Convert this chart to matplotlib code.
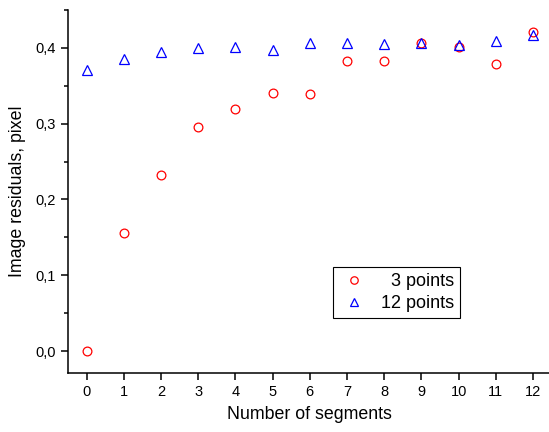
import matplotlib
matplotlib.use("Agg")
import matplotlib.pyplot as plt
from matplotlib.ticker import MultipleLocator, FuncFormatter

segments = [0, 1, 2, 3, 4, 5, 6, 7, 8, 9, 10, 11, 12]
res_3pts = [0.000, 0.156, 0.232, 0.296, 0.320, 0.341, 0.339, 0.383, 0.383, 0.407, 0.401, 0.379, 0.421]
res_12pts = [0.371, 0.385, 0.395, 0.400, 0.401, 0.397, 0.406, 0.407, 0.405, 0.407, 0.404, 0.409, 0.417]

plt.rcParams['font.family'] = ['Liberation Sans', 'DejaVu Sans']

fig = plt.figure(figsize=(5.49, 4.32), dpi=100)
# axes runs slightly past the right edge, as in the original
ax = fig.add_axes([68 / 549, 59 / 432, 483.6 / 549, 363 / 432])

ax.plot(segments, res_3pts, 'o', mfc='none', mec='#ff0000', ms=6.3, mew=0.9, label='  3 points')
ax.plot(segments, res_12pts, '^', mfc='none', mec='#0000ff', ms=6.8, mew=0.9, label='12 points')

ax.set_xlim(-0.5, 12.5)
ax.set_ylim(-0.029, 0.45)
ax.xaxis.set_major_locator(MultipleLocator(1))
ax.yaxis.set_major_locator(MultipleLocator(0.1))
ax.yaxis.set_minor_locator(MultipleLocator(0.05))
ax.yaxis.set_major_formatter(FuncFormatter(lambda v, p: f"{v:.1f}".replace('.', ',')))

for s in ['top', 'right']:
    ax.spines[s].set_visible(False)
for s in ['left', 'bottom']:
    ax.spines[s].set_linewidth(1.1)

ax.tick_params(which='major', direction='out', length=5, width=1.1, labelsize=10.5)
ax.tick_params(which='minor', direction='out', length=3, width=1.1)

ax.set_xlabel('Number of segments', fontsize=12.8, labelpad=5)
ax.set_ylabel('Image residuals, pixel', fontsize=12.8, labelpad=7)

leg = ax.legend(loc='upper left', bbox_to_anchor=(0.548, 0.292), borderaxespad=0,
                fontsize=13, fancybox=False, edgecolor='black', framealpha=1,
                handlelength=1.6, handletextpad=0.7, borderpad=0.35,
                labelspacing=0.25, markerscale=0.85)
leg.get_frame().set_linewidth(0.8)

fig.savefig('out.png', dpi=100)
